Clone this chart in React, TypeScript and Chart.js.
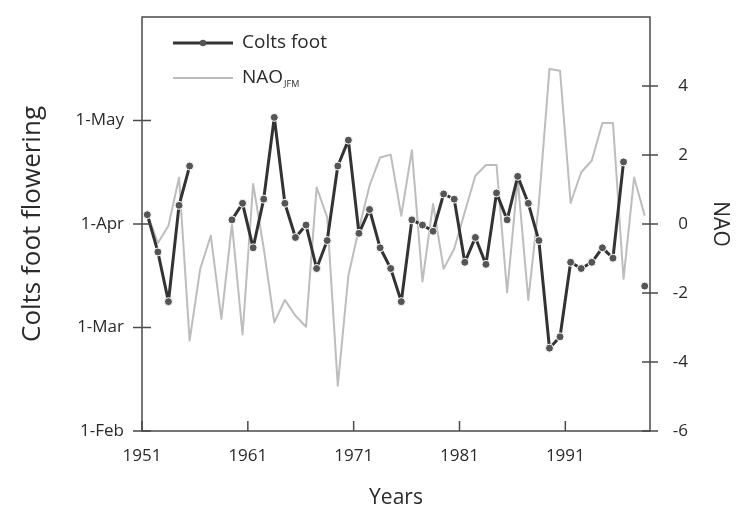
import React, { useEffect, useRef } from 'react';
import { Chart, registerables } from 'chart.js';

Chart.register(...registerables);

// ---- data ----
const years: number[] = [
  1951, 1952, 1953, 1954, 1955, 1956, 1957, 1958, 1959, 1960,
  1961, 1962, 1963, 1964, 1965, 1966, 1967, 1968, 1969, 1970,
  1971, 1972, 1973, 1974, 1975, 1976, 1977, 1978, 1979, 1980,
  1981, 1982, 1983, 1984, 1985, 1986, 1987, 1988, 1989, 1990,
  1991, 1992, 1993, 1994, 1995, 1996, 1997, 1998,
];

// flowering date, in months after 1-Feb (0 = 1-Feb, 1 = 1-Mar, 2 = 1-Apr, 3 = 1-May)
const coltsFoot: (number | null)[] = [
  2.09, 1.73, 1.25, 2.18, 2.56, null, null, null, 2.04, 2.2,
  1.77, 2.24, 3.03, 2.2, 1.87, 1.99, 1.57, 1.84, 2.56, 2.81,
  1.91, 2.14, 1.77, 1.57, 1.25, 2.04, 1.99, 1.93, 2.29, 2.24,
  1.63, 1.87, 1.61, 2.3, 2.04, 2.46, 2.2, 1.84, 0.8, 0.91,
  1.63, 1.57, 1.63, 1.77, 1.67, 2.6, null, 1.4,
];

// winter (Jan-Mar) North Atlantic Oscillation index
const naoJFM: number[] = [
  0.3, -0.55, -0.05, 1.35, -3.38, -1.3, -0.34, -2.75, 0.0, -3.2,
  1.16, -0.7, -2.85, -2.2, -2.66, -2.98, 1.06, 0.19, -4.69, -1.5,
  -0.14, 1.11, 1.93, 2.01, 0.24, 2.14, -1.67, 0.58, -1.3, -0.72,
  0.35, 1.4, 1.71, 1.71, -1.98, 1.3, -2.2, 0.6, 4.49, 4.44,
  0.61, 1.5, 1.84, 2.93, 2.93, -1.59, 1.35, 0.24,
];

const seriesNames = ['Colts foot', 'NAO'];
const naoSubscript = 'JFM';
const xTickLabels = ['1951', '1961', '1971', '1981', '1991'];
const leftTickLabels = ['1-Feb', '1-Mar', '1-Apr', '1-May'];
const rightTickValues = [-6, -4, -2, 0, 2, 4];
const xTitle = 'Years';
const leftTitle = 'Colts foot flowering';
const rightTitle = 'NAO';

const FONT = '"Open Sans", "DejaVu Sans", sans-serif';
const TEXT = '#2a2a2a';

const zeroPad = (s: any) => {
  s.paddingTop = 0;
  s.paddingBottom = 0;
  s.paddingLeft = 0;
  s.paddingRight = 0;
};

const framePlugin = {
  id: 'frameAndLegend',
  afterDraw(chart: any) {
    const { ctx, chartArea: a, scales } = chart;
    ctx.save();
    // frame
    ctx.strokeStyle = '#4a4a4a';
    ctx.lineWidth = 1.5;
    ctx.strokeRect(a.left, a.top, a.right - a.left, a.bottom - a.top);
    // tick marks
    ctx.beginPath();
    scales.y.ticks.forEach((t: any) => {
      const p = scales.y.getPixelForValue(t.value);
      ctx.moveTo(a.left - 9, p);
      ctx.lineTo(a.left + 9, p);
    });
    scales.y1.ticks.forEach((t: any) => {
      const p = scales.y1.getPixelForValue(t.value);
      ctx.moveTo(a.right - 8, p);
      ctx.lineTo(a.right + 8, p);
    });
    scales.x.ticks.forEach((t: any) => {
      const p = scales.x.getPixelForValue(t.value);
      ctx.moveTo(p, a.bottom);
      ctx.lineTo(p, a.bottom - 10);
    });
    ctx.stroke();

    // right axis labels, right-aligned
    ctx.fillStyle = TEXT;
    ctx.font = `17px ${FONT}`;
    ctx.textAlign = 'right';
    ctx.textBaseline = 'middle';
    scales.y1.ticks.forEach((t: any) => {
      const p = scales.y1.getPixelForValue(t.value);
      ctx.fillText(String(t.value), a.right + 38, p);
    });

    // legend
    const ds = chart.data.datasets;
    const x0 = a.left + 31;
    const x1 = a.left + 91;
    const tx = a.left + 100;
    const rows = [a.top + 26, a.top + 61];
    ctx.strokeStyle = ds[0].borderColor;
    ctx.lineWidth = 3;
    ctx.beginPath();
    ctx.moveTo(x0, rows[0]);
    ctx.lineTo(x1, rows[0]);
    ctx.stroke();
    ctx.fillStyle = ds[0].pointBackgroundColor;
    ctx.beginPath();
    ctx.arc((x0 + x1) / 2, rows[0], 3.2, 0, Math.PI * 2);
    ctx.fill();
    ctx.strokeStyle = ds[1].borderColor;
    ctx.lineWidth = 2;
    ctx.beginPath();
    ctx.moveTo(x0, rows[1]);
    ctx.lineTo(x1, rows[1]);
    ctx.stroke();
    ctx.fillStyle = TEXT;
    ctx.textAlign = 'left';
    ctx.font = `19px ${FONT}`;
    ctx.fillText(ds[0].label, tx, rows[0]);
    ctx.fillText(ds[1].label, tx, rows[1]);
    const w = ctx.measureText(ds[1].label).width;
    ctx.font = `9px ${FONT}`;
    ctx.fillText(naoSubscript, tx + w + 1, rows[1] + 6);
    ctx.restore();
  },
};

export default function App() {
  const ref = useRef<HTMLCanvasElement | null>(null);

  useEffect(() => {
    if (!ref.current) return;
    const chart = new Chart(ref.current, {
      type: 'line',
      data: {
        datasets: [
          {
            label: seriesNames[0],
            data: years.map((yr, i) => ({ x: yr, y: coltsFoot[i] })),
            yAxisID: 'y',
            borderColor: '#333333',
            borderWidth: 3,
            borderJoinStyle: 'round',
            pointRadius: 4,
            pointBackgroundColor: '#555555',
            pointBorderColor: '#ffffff',
            pointBorderWidth: 1,
            spanGaps: false,
            tension: 0,
          },
          {
            label: seriesNames[1],
            data: years.map((yr, i) => ({ x: yr, y: naoJFM[i] })),
            yAxisID: 'y1',
            borderColor: '#bdbdbd',
            borderWidth: 2,
            borderJoinStyle: 'round',
            pointRadius: 0,
            tension: 0,
          },
        ],
      } as any,
      options: {
        animation: false,
        responsive: false,
        layout: { padding: { top: 17, left: 0, right: 0, bottom: 0 } },
        plugins: { legend: { display: false }, tooltip: { enabled: false } },
        scales: {
          x: {
            type: 'linear',
            min: Number(xTickLabels[0]) - 0.5,
            max: years[years.length - 1] + 0.5,
            grid: { display: false, drawTicks: false },
            border: { display: false },
            afterBuildTicks: (s: any) => {
              s.ticks = xTickLabels.map((l) => ({ value: Number(l) - 0.5 }));
            },
            afterFit: (s: any) => {
              s.height = 81;
              zeroPad(s);
            },
            ticks: {
              autoSkip: false,
              maxRotation: 0,
              padding: 15,
              color: TEXT,
              font: { family: FONT, size: 17 },
              callback: (_v: any, i: number) => xTickLabels[i],
            },
            title: {
              display: true,
              text: xTitle,
              color: TEXT,
              font: { family: FONT, size: 21 },
              padding: { top: 0, bottom: 1 },
            },
          },
          y: {
            type: 'linear',
            position: 'left',
            min: 0,
            max: 4,
            grid: { display: false, drawTicks: false },
            border: { display: false },
            afterBuildTicks: (s: any) => {
              s.ticks = leftTickLabels.map((_l, i) => ({ value: i }));
            },
            afterFit: (s: any) => {
              s.width = 142;
              zeroPad(s);
            },
            ticks: {
              autoSkip: false,
              padding: 18,
              color: TEXT,
              font: { family: FONT, size: 17 },
              callback: (_v: any, i: number) => leftTickLabels[i],
            },
            title: {
              display: true,
              text: leftTitle,
              color: TEXT,
              font: { family: FONT, size: 26 },
              padding: { top: 17, bottom: 0 },
            },
          },
          y1: {
            type: 'linear',
            position: 'right',
            min: -6,
            max: 6,
            grid: { display: false, drawTicks: false },
            border: { display: false },
            afterBuildTicks: (s: any) => {
              s.ticks = rightTickValues.map((v) => ({ value: v }));
            },
            afterFit: (s: any) => {
              s.width = 86;
              zeroPad(s);
            },
            ticks: { display: false },
            title: {
              display: true,
              text: rightTitle,
              color: TEXT,
              font: { family: FONT, size: 21 },
              padding: { top: 3, bottom: 0 },
            },
          },
        },
      } as any,
      plugins: [framePlugin],
    });
    return () => chart.destroy();
  }, []);

  return (
    <div style={{ position: 'absolute', left: 0, top: 0, width: 736, height: 512 }}>
      <canvas ref={ref} width={736} height={512} style={{ display: 'block' }} />
    </div>
  );
}
